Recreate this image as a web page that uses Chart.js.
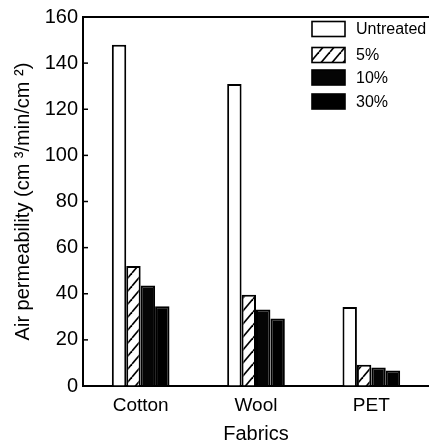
<!DOCTYPE html>
<html>
<head>
<meta charset="utf-8">
<script src="https://cdn.jsdelivr.net/npm/chart.js@4/dist/chart.umd.min.js"></script>
<style>
  html, body { margin: 0; padding: 0; background: #fff; }
  #wrap { width: 429px; height: 447px; position: relative; }
</style>
</head>
<body>
<div id="wrap"><canvas id="c" width="429" height="447"></canvas></div>
<script>
const categories = ['Cotton', 'Wool', 'PET'];
const seriesLabels = ['Untreated', '5%', '10%', '30%'];
const untreated = [148, 131, 34.3];
const pct5 = [52, 39.6, 9.2];
const pct10 = [43.6, 33.2, 8.0];
const pct30 = [34.6, 29.3, 6.7];
const yTicks = [0, 20, 40, 60, 80, 100, 120, 140, 160];

function hatch() {
  const w = 11, h = 13;
  const cv = document.createElement('canvas');
  cv.width = w; cv.height = h;
  const g = cv.getContext('2d');
  g.fillStyle = '#fff'; g.fillRect(0, 0, w, h);
  g.strokeStyle = '#000'; g.lineWidth = 1.7;
  for (const dx of [-w, 0, w]) {
    g.beginPath(); g.moveTo(dx, h); g.lineTo(dx + w, 0); g.stroke();
  }
  return g.createPattern(cv, 'repeat');
}
const hatchPattern = hatch();

const FONT = "'Liberation Sans', Arial, sans-serif";

const insideLegend = {
  id: 'insideLegend',
  afterDraw(chart) {
    const ctx = chart.ctx;
    const rows = [21.5, 47.5, 70, 94];
    ctx.save();
    chart.data.datasets.forEach((ds, i) => {
      const x = 312, y = rows[i], w = 33, h = 15;
      ctx.fillStyle = ds.backgroundColor;
      ctx.fillRect(x, y, w, h);
      ctx.lineWidth = 1.6; ctx.strokeStyle = '#000';
      ctx.strokeRect(x, y, w, h);
      ctx.fillStyle = '#000';
      ctx.font = '16px ' + FONT;
      ctx.textBaseline = 'middle';
      ctx.textAlign = 'left';
      ctx.fillText(ds.label, 356, y + h / 2 + 1);
    });
    ctx.restore();
  }
};

const frame = {
  id: 'frame',
  afterDraw(chart) {
    const ctx = chart.ctx, a = chart.chartArea, ys = chart.scales.y;
    ctx.save();
    ctx.strokeStyle = '#000';
    ctx.lineWidth = 2;
    ctx.beginPath(); ctx.moveTo(a.left - 1, a.top); ctx.lineTo(a.right, a.top); ctx.stroke();
    ctx.lineWidth = 1.5;
    yTicks.forEach(v => {
      const py = ys.getPixelForValue(v);
      ctx.beginPath(); ctx.moveTo(a.left, py); ctx.lineTo(a.left + 5, py); ctx.stroke();
    });
    ctx.restore();
  }
};

new Chart(document.getElementById('c'), {
  type: 'bar',
  data: {
    labels: categories,
    datasets: [
      { label: seriesLabels[0], data: untreated, backgroundColor: '#fff' },
      { label: seriesLabels[1], data: pct5, backgroundColor: hatchPattern },
      { label: seriesLabels[2], data: pct10, backgroundColor: '#050505' },
      { label: seriesLabels[3], data: pct30, backgroundColor: '#000' }
    ].map(d => Object.assign(d, { borderColor: '#000', borderWidth: 2, categoryPercentage: 0.5, barPercentage: 1 }))
  },
  options: {
    responsive: false,
    animation: false,
    devicePixelRatio: 1,
    layout: { padding: { top: 13, right: 0, left: 0, bottom: 0 } },
    plugins: { legend: { display: false }, tooltip: { enabled: false } },
    scales: {
      x: {
        grid: { display: false, drawTicks: false },
        border: { display: true, color: '#000', width: 2 },
        ticks: { color: '#000', font: { family: FONT, size: 19 }, padding: 8 },
        title: { display: true, text: 'Fabrics', color: '#000', font: { family: FONT, size: 20 }, padding: { top: 0, bottom: 1 } },
        afterFit(s) { s.height = 61; }
      },
      y: {
        min: 0, max: 160,
        afterBuildTicks(s) { s.ticks = yTicks.map(v => ({ value: v })); },
        grid: { drawOnChartArea: false, drawTicks: false },
        border: { display: true, color: '#000', width: 2 },
        ticks: { color: '#000', font: { family: FONT, size: 20 }, padding: 5 },
        title: { display: true, text: 'Air permeability (cm ³/min/cm ²)', color: '#000', font: { family: FONT, size: 20 }, padding: { top: 11, bottom: 0 } },
        afterFit(s) { s.width = 83; }
      }
    }
  },
  plugins: [insideLegend, frame]
});
</script>
</body>
</html>
